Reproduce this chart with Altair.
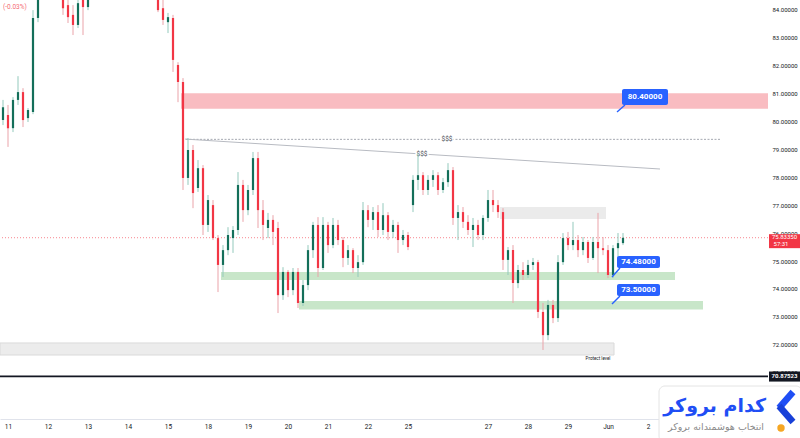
import altair as alt
import pandas as pd

# ---------------- data ----------------
bar_index = list(range(-1, 124))  # 3-hour bars, 8 bars per session

opens = [80.04, 80.22, 79.75, 80.76, 81.04, 80.11, 80.33, 83.69, 84.87, 85.33,
         85.40, 85.05, 84.69, 84.15, 83.80, 83.44, 84.51, 84.08, 84.87, 85.23,
         85.58, 85.76, 85.94, 85.76, 85.58, 85.40, 85.23, 85.40, 85.23, 85.05,
         84.76, 84.51, 84.04, 83.54, 83.69, 82.01, 81.40, 77.97, 78.97, 77.61,
         78.32, 76.29, 77.00, 75.82, 74.86, 75.39, 75.82, 76.11, 77.72, 76.82,
         77.54, 78.68, 76.82, 76.18, 76.47, 76.18, 73.78, 74.61, 73.96, 74.61,
         73.50, 74.14, 75.39, 76.29, 74.75, 76.29, 75.57, 76.29, 75.75, 75.11,
         75.39, 74.75, 74.96, 76.82, 76.47, 76.75, 76.11, 76.64, 76.04, 76.29,
         75.75, 75.93, 77.00, 77.90, 78.07, 77.54, 77.90, 78.07, 77.54, 77.82,
         78.25, 76.54, 76.75, 76.40, 76.11, 76.29, 75.93, 76.54, 77.18, 77.00,
         76.75, 75.04, 75.39, 74.21, 74.68, 74.50, 74.86, 74.96, 73.18, 72.35,
         73.43, 72.96, 74.96, 75.82, 75.57, 75.75, 75.39, 75.68, 75.11, 75.68,
         75.46, 75.39, 74.50, 75.46, 75.64]
highs = [80.76, 80.58, 80.86, 81.61, 81.18, 80.47, 83.97, 85.23, 85.58, 85.76,
         85.69, 85.40, 85.05, 84.69, 84.15, 84.51, 84.87, 85.05, 85.40, 85.76,
         86.12, 86.30, 86.30, 86.12, 85.94, 85.76, 85.69, 85.76, 85.58, 85.40,
         85.05, 84.76, 84.51, 83.87, 83.80, 82.11, 81.54, 79.40, 79.15, 78.61,
         78.43, 77.36, 77.18, 75.93, 75.57, 76.21, 76.25, 78.18, 77.90, 77.72,
         78.90, 78.90, 77.18, 76.72, 76.64, 76.40, 74.78, 74.68, 74.75, 74.75,
         74.32, 75.57, 76.40, 76.57, 76.57, 76.40, 76.54, 76.47, 75.86, 75.57,
         75.46, 75.21, 77.11, 77.00, 76.93, 77.00, 77.07, 76.75, 76.47, 76.40,
         76.11, 76.04, 78.07, 78.86, 78.18, 78.07, 78.25, 78.18, 77.97, 78.50,
         78.36, 77.00, 76.93, 76.64, 76.54, 76.47, 76.64, 77.54, 77.54, 77.18,
         76.89, 75.50, 75.57, 74.86, 74.96, 75.04, 75.11, 75.04, 73.50, 73.61,
         73.61, 75.21, 76.00, 76.04, 76.40, 75.93, 75.86, 75.75, 75.86, 76.72,
         75.86, 75.57, 75.57, 76.00, 76.00]
lows = [79.86, 79.08, 79.61, 80.58, 79.79, 79.97, 80.25, 83.54, 84.69, 85.05,
        84.87, 84.51, 83.80, 83.51, 83.08, 83.33, 83.08, 83.97, 84.62, 84.98,
        85.33, 85.40, 85.58, 85.40, 85.23, 85.05, 84.87, 85.05, 84.87, 84.62,
        84.40, 83.90, 83.44, 83.15, 81.76, 80.68, 77.54, 77.72, 76.89, 77.47,
        75.93, 76.04, 75.75, 73.89, 74.43, 75.21, 75.29, 75.93, 76.40, 76.64,
        77.36, 76.18, 75.75, 75.82, 75.57, 73.14, 73.61, 73.71, 73.78, 73.32,
        73.39, 73.96, 75.11, 74.43, 74.68, 75.29, 75.46, 75.57, 74.78, 74.86,
        74.57, 74.43, 74.86, 76.21, 76.11, 75.86, 75.93, 75.75, 75.82, 75.29,
        75.57, 75.39, 76.75, 77.54, 77.36, 77.36, 77.65, 77.36, 77.43, 77.65,
        76.29, 75.75, 76.18, 75.93, 75.50, 75.75, 75.75, 76.40, 76.75, 76.54,
        74.68, 74.50, 73.50, 74.03, 74.32, 74.39, 74.68, 72.96, 71.82, 72.17,
        72.78, 72.82, 74.86, 75.39, 75.39, 75.14, 75.21, 74.93, 75.04, 74.57,
        75.21, 74.39, 74.39, 74.93, 75.57]
closes = [80.50, 79.75, 80.76, 81.04, 80.04, 80.40, 83.69, 84.87, 85.33, 85.40,
          85.05, 84.69, 84.04, 83.72, 83.44, 84.22, 84.08, 84.87, 85.23, 85.58,
          85.76, 85.94, 85.76, 85.58, 85.40, 85.23, 85.40, 85.23, 85.05, 84.76,
          84.51, 83.97, 83.62, 83.72, 82.19, 81.40, 77.97, 78.97, 77.43, 78.32,
          76.29, 77.18, 75.82, 74.86, 75.39, 75.93, 76.11, 77.72, 76.82, 77.54,
          78.68, 76.82, 76.29, 76.47, 76.04, 73.78, 74.61, 73.96, 74.61, 73.50,
          74.14, 75.39, 76.29, 74.75, 76.29, 75.57, 76.29, 75.75, 75.11, 75.39,
          74.75, 74.96, 76.82, 76.47, 76.75, 76.11, 76.64, 76.04, 76.29, 75.75,
          75.93, 75.50, 77.90, 78.07, 77.54, 77.90, 78.07, 77.54, 77.82, 78.25,
          76.54, 76.75, 76.40, 76.11, 76.29, 75.93, 76.54, 77.18, 77.00, 76.75,
          75.04, 75.39, 74.21, 74.68, 74.50, 74.86, 74.96, 73.18, 72.35, 73.43,
          72.96, 74.96, 75.82, 75.57, 75.75, 75.39, 75.68, 75.11, 75.68, 75.46,
          75.39, 74.50, 75.46, 75.64, 75.83]

# session labels on the time axis (bar positions of session starts)
tick_pos = [0, 8, 16, 24, 32, 40, 48, 56, 64, 72, 80, 96, 104, 112, 120, 128]
tick_labels = ["11", "12", "13", "14", "15", "18", "19", "20", "21", "22",
               "25", "27", "28", "29", "Jun", "2"]
price_ticks = [71, 72, 73, 74, 75, 76, 77, 78, 79, 80, 81, 82, 83, 84]

# zones (bar start, bar end, upper price, lower price)
zone_kind = ["supply", "gap", "demand", "demand", "protect"]
zone_bar_start = [34.6, 98.4, 42.6, 58.2, -1.6]
zone_bar_end = [152.0, 119.6, 133.4, 139.0, 121.2]
zone_top = [81.00, 76.93, 74.61, 73.57, 72.07]
zone_bottom = [80.44, 76.50, 74.32, 73.27, 71.64]

current_price = 75.8335
low_line_price = 70.87523
liquidity_price = 79.35
liquidity_bars = [35.6, 142.4]
trend_bars = [35.4, 130.4]
trend_prices = [79.36, 78.29]
dollar_bars = [87.8, 82.8]
dollar_prices = [79.35, 78.83]

callout_text = ["80.40000", "74.48000", "73.50000"]
tip_bar = [121.8, 120.8, 120.8]
tip_price = [80.33, 74.43, 73.46]
box_left = [122.8, 121.8, 121.8]
box_right = [132.0, 130.4, 130.4]
box_top = [81.15, 75.18, 74.18]
box_bottom = [80.58, 74.75, 73.75]

# ---------------- chart ----------------
UP, DOWN = "#146f5a", "#f23645"
UP_WICK, DOWN_WICK = "#93c9bc", "#eaa3a9"

df = pd.DataFrame(dict(bar=bar_index, open=opens, high=highs, low=lows, close=closes))
zones = pd.DataFrame(dict(kind=zone_kind, x1=zone_bar_start, x2=zone_bar_end,
                          top=zone_top, bottom=zone_bottom))
calls = pd.DataFrame(dict(text=callout_text, tipx=tip_bar, tipy=tip_price,
                          bl=box_left, br=box_right, bt=box_top, bb=box_bottom))
calls["cx"] = (calls.bl + calls.br) / 2
calls["cy"] = (calls.bt + calls.bb) / 2
calls["jx"] = calls.bl + 0.6
dollars = pd.DataFrame(dict(bar=dollar_bars, price=dollar_prices, t=["$$$", "$$$"]))
one = pd.DataFrame({"a": [0]})

xsc = alt.Scale(domain=[-1.6, 152], nice=False, zero=False, padding=0)
ysc = alt.Scale(domain=[69.352, 84.3325], nice=False, zero=False, padding=0)

label_expr = " : ".join(
    f"datum.value == {p} ? '{lab}'" for p, lab in zip(tick_pos, tick_labels)) + " : ''"

# identical axis objects on every layer so that the shared axes merge cleanly
x_axis = alt.Axis(values=tick_pos, labelExpr=label_expr, title=None, grid=False,
                  ticks=False, domainColor="#e0e3eb", labelFontSize=6.5,
                  labelColor="#131722", labelFont="Roboto", labelPadding=4,
                  labelOverlap=False, labelFlush=False, orient="bottom")
y_axis = alt.Axis(orient="right", values=price_ticks, format=".5f", title=None,
                  grid=False, ticks=False, domain=False, labelFontSize=6,
                  labelColor="#131722", labelFont="Roboto", labelPadding=4,
                  labelFlush=False, labelOverlap=False)


def X(field):
    return alt.X(field, type="quantitative", scale=xsc, axis=x_axis)


def Y(field):
    return alt.Y(field, type="quantitative", scale=ysc, axis=y_axis)


def XD(v):
    return alt.XDatum(v, scale=xsc, axis=x_axis)


def YD(v):
    return alt.YDatum(v, scale=ysc, axis=y_axis)


def zone_layer(kind, color):
    return alt.Chart(zones).transform_filter(alt.datum.kind == kind).mark_rect(
        color=color, clip=True).encode(
        x=X("x1"), x2="x2", y=Y("top"), y2="bottom")


supply = zone_layer("supply", "#f9bcc1")
gap = zone_layer("gap", "#ebebeb")
demand = zone_layer("demand", "#c8e6c9")
protect = zone_layer("protect", "#ececec")
protect_edge = alt.Chart(zones).transform_filter(alt.datum.kind == "protect").mark_rect(
    fill=None, stroke="#dadada", strokeWidth=1, clip=True).encode(
    x=X("x1"), x2="x2", y=Y("top"), y2="bottom")

price_line = alt.Chart(one).mark_rule(color="#f23645", strokeDash=[1, 2], opacity=0.6,
                                      strokeWidth=1).encode(y=YD(current_price))
low_line = alt.Chart(one).mark_rule(color="#131722", strokeWidth=1.6).encode(
    y=YD(low_line_price))
liq_line = alt.Chart(one).mark_rule(color="#a6a9b1", strokeDash=[2, 1.5], strokeWidth=1).encode(
    x=XD(liquidity_bars[0]), x2=alt.X2Datum(liquidity_bars[1]),
    y=YD(liquidity_price))
trend_line = alt.Chart(one).mark_rule(color="#b8bbc2", strokeWidth=1).encode(
    x=XD(trend_bars[0]), x2=alt.X2Datum(trend_bars[1]),
    y=YD(trend_prices[0]), y2=alt.Y2Datum(trend_prices[1]))

dollar_halo = alt.Chart(dollars).mark_text(fontSize=6.5, font="Roboto", stroke="white",
                                           strokeWidth=3, color="white").encode(
    x=X("bar"), y=Y("price"), text="t:N")
dollar_txt = alt.Chart(dollars).mark_text(fontSize=6.5, font="Roboto", color="#4a4d55").encode(
    x=X("bar"), y=Y("price"), text="t:N")

wicks = alt.Chart(df).mark_rule(strokeWidth=1, clip=True).encode(
    x=X("bar"), y=Y("low"), y2="high",
    color=alt.condition("datum.close >= datum.open", alt.value(UP_WICK), alt.value(DOWN_WICK)))
bodies = alt.Chart(df).mark_bar(size=2.2, clip=True).encode(
    x=X("bar"), y=Y("open"), y2="close",
    color=alt.condition("datum.close >= datum.open", alt.value(UP), alt.value(DOWN)))

protect_txt = alt.Chart(one).mark_text(fontSize=4.5, font="Roboto", color="#131722").encode(
    x=XD(118.0), y=YD(71.50), text=alt.value("Protect level"))

tails = alt.Chart(calls).mark_rule(color="#2962ff", strokeWidth=1.4).encode(
    x=X("tipx"), x2="jx", y=Y("tipy"), y2="bb")
boxes = alt.Chart(calls).mark_rect(color="#2962ff", cornerRadius=2).encode(
    x=X("bl"), x2="br", y=Y("bt"), y2="bb")
box_txt = alt.Chart(calls).mark_text(color="white", fontSize=8, fontWeight="bold",
                                     font="Roboto").encode(
    x=X("cx"), y=Y("cy"), text="text:N")

# right price-scale labels
cur_box = alt.Chart(one).mark_rect(color="#f23645").encode(
    x=alt.value(769), x2=alt.value(800), y=YD(75.96), y2=alt.Y2Datum(75.46))
cur_txt = alt.Chart(one).mark_text(color="white", fontSize=6, font="Roboto").encode(
    x=alt.value(784.5), y=YD(75.85), text=alt.value("75.83350"))
cur_txt2 = alt.Chart(one).mark_text(color="white", fontSize=6, font="Roboto").encode(
    x=alt.value(781), y=YD(75.61), text=alt.value("57:31"))
low_box = alt.Chart(one).mark_rect(color="#131722").encode(
    x=alt.value(769), x2=alt.value(800), y=YD(71.05), y2=alt.Y2Datum(70.69))
low_txt = alt.Chart(one).mark_text(color="white", fontSize=6, font="Roboto",
                                   fontWeight="bold").encode(
    x=alt.value(784.5), y=YD(low_line_price), text=alt.value("70.87523"))

change_txt = alt.Chart(one).mark_text(color="#f23645", opacity=0.75, fontSize=6.5,
                                      font="Roboto", align="left").encode(
    x=alt.value(3), y=alt.value(7), text=alt.value("(-0.03%)"))

# watermark logo card
card = alt.Chart(one).mark_rect(fill="white", stroke="#e4e4e4", strokeWidth=1,
                                cornerRadius=6).encode(
    x=alt.value(659), x2=alt.value(802), y=alt.value(386), y2=alt.value(442))
logo_big = alt.Chart(one).mark_text(color="#1f4ef5", fontSize=19, fontWeight="bold",
                                    font="DejaVu Sans", align="right").encode(
    x=alt.value(766), y=alt.value(406), text=alt.value("کدام بروکر"))
logo_small = alt.Chart(one).mark_text(color="#8a8a8a", fontSize=9.5,
                                      font="DejaVu Sans", align="right").encode(
    x=alt.value(764), y=alt.value(427), text=alt.value("انتخاب هوشمندانه بروکر"))
chev1 = alt.Chart(one).mark_rule(color="#1f4ef5", strokeWidth=6.5).encode(
    x=alt.value(793), x2=alt.value(779), y=alt.value(392), y2=alt.value(408))
chev2 = alt.Chart(one).mark_rule(color="#1840d8", strokeWidth=6.5).encode(
    x=alt.value(779), x2=alt.value(793), y=alt.value(406), y2=alt.value(422))
dot = alt.Chart(one).mark_circle(color="#f5a623", size=55, opacity=1).encode(
    x=alt.value(781), y=alt.value(428))

chart = alt.layer(
    supply, gap, demand, protect, protect_edge,
    price_line, low_line, liq_line, trend_line, dollar_halo, dollar_txt,
    wicks, bodies, protect_txt, tails, boxes, box_txt,
    cur_box, cur_txt, cur_txt2, low_box, low_txt, change_txt,
    card, logo_big, logo_small, chev1, chev2, dot,
).properties(
    width=768, height=419, background="white",
    autosize=alt.AutoSizeParams(type="none"),
    padding={"left": 0, "top": 0, "right": 32, "bottom": 19},
).configure_view(strokeWidth=0)

chart.save("out.html", embed_options={"renderer": "svg", "actions": False})
